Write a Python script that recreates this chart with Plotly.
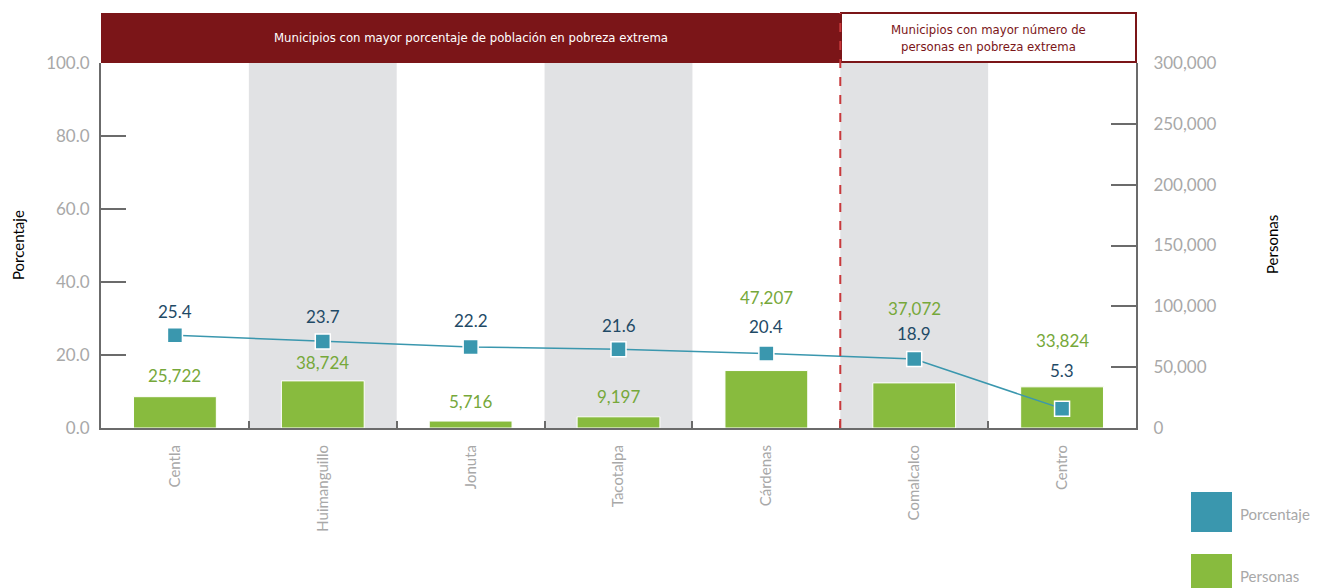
import plotly.graph_objects as go

municipios = ["Centla", "Huimanguillo", "Jonuta", "Tacotalpa", "Cárdenas", "Comalcalco", "Centro"]
porcentaje = [25.4, 23.7, 22.2, 21.6, 20.4, 18.9, 5.3]
personas = [25722, 38724, 5716, 9197, 47207, 37072, 33824]
pct_ticks = [0, 20, 40, 60, 80, 100]
per_ticks = [0, 50000, 100000, 150000, 200000, 250000, 300000]
banner_left = "Municipios con mayor porcentaje de población en pobreza extrema"
banner_right = "Municipios con mayor número de<br>personas en pobreza extrema"

GREEN = "#88BB3E"
GREEN_TXT = "#76A83A"
TEAL = "#3A97AE"
NAVY = "#1F4A66"
DARKRED = "#7B1518"
GREY_TXT = "#A8A8A8"
AXIS = "#6B6B6B"
FONT = "Lato"
NARROW = "DejaVu Sans Condensed"

# page body has an 8px margin; compensate so the plot area lands where the reference has it
OFF = 8
SCREEN_W, SCREEN_H = 1319, 588
PX_L, PX_R, PX_T, PX_B = 101, 1136, 63, 428
W, H = SCREEN_W - OFF, SCREEN_H - OFF
L, T = PX_L - OFF, PX_T - OFF
R, B = SCREEN_W - PX_R, SCREEN_H - PX_B
pw, ph = PX_R - PX_L, PX_B - PX_T


def px_x(px):
    return (px - PX_L) / pw


def px_y(py):
    return (PX_B - py) / ph


fig = go.Figure()

fig.add_trace(go.Bar(
    x=municipios, y=personas, yaxis="y", name="Personas",
    marker=dict(color=GREEN, line=dict(color="white", width=1)),
    width=0.56, showlegend=False, hoverinfo="x+y"))

fig.add_trace(go.Scatter(
    x=municipios, y=porcentaje, yaxis="y2", name="Porcentaje", mode="lines+markers",
    line=dict(color=TEAL, width=1.5),
    marker=dict(symbol="square", size=15, color=TEAL, line=dict(color="white", width=1.5)),
    showlegend=False))

shapes = []
for i in range(len(municipios)):
    if i % 2 == 1:
        shapes.append(dict(type="rect", xref="x", yref="paper", x0=i - 0.5, x1=i + 0.5,
                           y0=0, y1=1, fillcolor="#E1E2E4", line=dict(width=0), layer="below"))

split = 4.5
top = px_y(13)
shapes.append(dict(type="rect", xref="paper", yref="paper", x0=0, x1=px_x(840), y0=1, y1=top,
                   fillcolor=DARKRED, line=dict(width=0), layer="above"))
shapes.append(dict(type="rect", xref="paper", yref="paper", x0=px_x(841), x1=1, y0=px_y(62), y1=top,
                   fillcolor="white", line=dict(color=DARKRED, width=2), layer="above"))
shapes.append(dict(type="line", xref="x", yref="paper", x0=split, x1=split, y0=0, y1=top,
                   line=dict(color="#C8393B", width=2, dash="dash"), layer="above"))
shapes.append(dict(type="rect", xref="paper", yref="paper", x0=px_x(1191), x1=px_x(1232),
                   y0=px_y(532), y1=px_y(492), fillcolor=TEAL, line=dict(width=0)))
shapes.append(dict(type="rect", xref="paper", yref="paper", x0=px_x(1191), x1=px_x(1232),
                   y0=px_y(596), y1=px_y(554), fillcolor=GREEN, line=dict(width=0)))

annotations = []
pct_shift = [24, 25, 26, 24, 27, 26, 38]
per_shift = [21, 18, 20, 20, 73, 74, 46]
for i, m in enumerate(municipios):
    annotations.append(dict(x=m, y=porcentaje[i], xref="x", yref="y2", text=f"{porcentaje[i]:.1f}",
                            showarrow=False, yshift=pct_shift[i], font=dict(family=FONT, size=17, color=NAVY)))
    annotations.append(dict(x=m, y=personas[i], xref="x", yref="y", text=f"{personas[i]:,}",
                            showarrow=False, yshift=per_shift[i], font=dict(family=FONT, size=17, color=GREEN_TXT)))

annotations.append(dict(x=px_x(471), y=px_y(38), xref="paper", yref="paper", text=banner_left,
                        xanchor="center", yanchor="middle", showarrow=False,
                        font=dict(family=NARROW, size=13, color="white")))
annotations.append(dict(x=px_x(988), y=px_y(38), xref="paper", yref="paper", text=banner_right,
                        xanchor="center", yanchor="middle", showarrow=False,
                        font=dict(family=NARROW, size=13, color=DARKRED)))
annotations.append(dict(x=px_x(18), y=px_y(245), xref="paper", yref="paper", text="Porcentaje",
                        xanchor="center", yanchor="middle",
                        textangle=-90, showarrow=False, font=dict(family=FONT, size=15, color="black")))
annotations.append(dict(x=px_x(1272), y=px_y(245), xref="paper", yref="paper", text="Personas",
                        xanchor="center", yanchor="middle",
                        textangle=-90, showarrow=False, font=dict(family=FONT, size=15, color="black")))
annotations.append(dict(x=px_x(1238), y=px_y(514), xref="paper", yref="paper", text="Porcentaje",
                        xanchor="left", yanchor="middle", showarrow=False,
                        font=dict(family=FONT, size=15, color=GREY_TXT)))
annotations.append(dict(x=px_x(1238), y=px_y(576), xref="paper", yref="paper", text="Personas",
                        xanchor="left", yanchor="middle", showarrow=False,
                        font=dict(family=FONT, size=15, color=GREY_TXT)))

fig.update_layout(
    width=W, height=H,
    margin=dict(l=L, r=R, t=T, b=B, autoexpand=False),
    paper_bgcolor="white", plot_bgcolor="white",
    font=dict(family=FONT, color=GREY_TXT),
    xaxis=dict(type="category", range=[-0.5, 6.5], tickangle=-90, showgrid=False,
               showline=True, linecolor=AXIS, linewidth=2,
               ticks="inside", tickson="boundaries", ticklen=7, tickcolor=AXIS, tickwidth=2,
               ticklabelstandoff=9,
               tickfont=dict(family=FONT, size=15, color=GREY_TXT)),
    yaxis=dict(side="right", range=[0, 300000], tickvals=per_ticks,
               ticktext=[f"{v:,}" for v in per_ticks], showgrid=False, zeroline=False,
               showline=True, linecolor=AXIS, linewidth=2,
               ticks="inside", ticklen=25, tickcolor=AXIS, tickwidth=2,
               ticklabelstandoff=12,
               tickfont=dict(family=FONT, size=17, color=GREY_TXT)),
    yaxis2=dict(overlaying="y", side="left", range=[0, 100], tickvals=pct_ticks,
                ticktext=[f"{v:.1f}" for v in pct_ticks], showgrid=False, zeroline=False,
                showline=True, linecolor=AXIS, linewidth=2,
                ticks="inside", ticklen=25, tickcolor=AXIS, tickwidth=2,
                ticklabelstandoff=6,
                tickfont=dict(family=FONT, size=17, color=GREY_TXT)),
    shapes=shapes,
    annotations=annotations,
    showlegend=False,
)

fig.write_html("out.html")
